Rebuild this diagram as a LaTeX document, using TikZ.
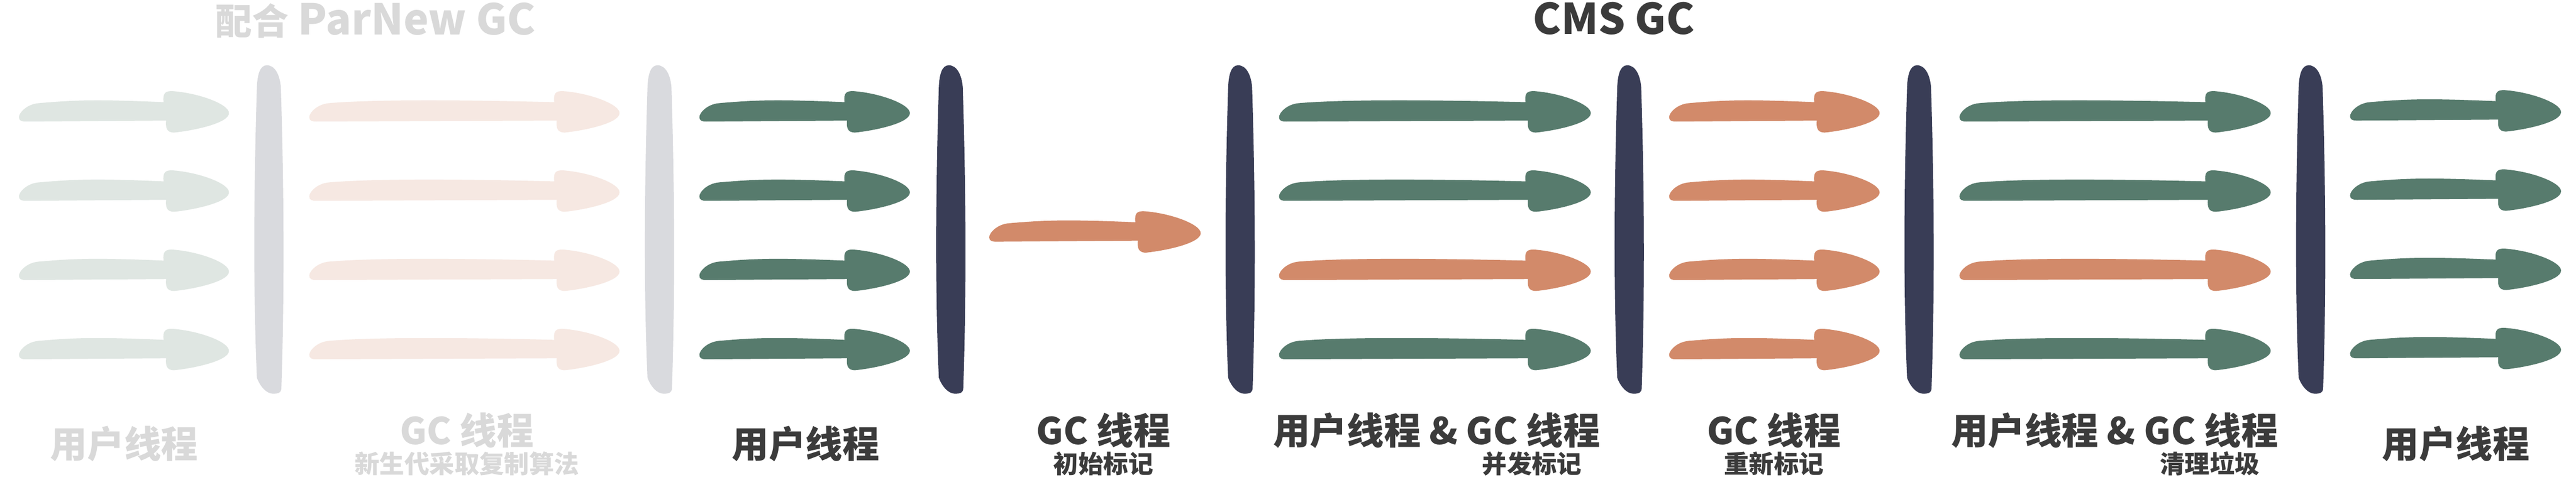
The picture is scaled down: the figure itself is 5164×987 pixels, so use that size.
\documentclass[tikz,border=0pt]{standalone}
\usepackage{fontspec}
\newfontfamily\cjk{Noto Sans CJK SC}
\definecolor{fgreen}{HTML}{DFE6E2}
\definecolor{fpink}{HTML}{F6E8E2}
\definecolor{fbar}{HTML}{D9DADE}
\definecolor{ftext}{HTML}{D9D9D9}
\definecolor{tgreen}{HTML}{577B6D}
\definecolor{torange}{HTML}{D28A6A}
\definecolor{dbar}{HTML}{393D56}
\definecolor{dtext}{HTML}{3B3B3B}
% thread arrow: #1 tail x, #2 tip x, #3 centre y, #4 colour
\newcommand\tharrow[4]{%
  \fill[#4] ({#1+14},{#3+19}) -- ({#2-126},{#3+17})
    .. controls ({#2-127},{#3+30}) and ({#2-126},{#3+41}) .. ({#2-110},{#3+41})
    .. controls ({#2-70},{#3+37}) and ({#2},{#3+22}) .. ({#2},{#3+2})
    .. controls ({#2},{#3-16}) and ({#2-60},{#3-38}) .. ({#2-112},{#3-42})
    .. controls ({#2-128},{#3-43}) and ({#2-133},{#3-38}) .. ({#2-131},{#3-20})
    .. controls ({(#1+#2)/2-60},{#3-26}) and ({#1+110},{#3-24}) .. ({#1+40},{#3-18})
    .. controls ({#1+15},{#3-16}) and ({#1},{#3+2}) .. ({#1},{#3+10})
    .. controls ({#1},{#3+17}) and ({#1+5},{#3+19}) .. ({#1+14},{#3+19}) -- cycle;}
% safepoint bar: #1 centre x, #2 colour
\newcommand\gcbar[2]{%
  \fill[#2] ({#1-4},131) .. controls ({#1-18},131) and ({#1-23},150) .. ({#1-24},175)
    .. controls ({#1-31},400) and ({#1-31},600) .. ({#1-24},758)
    .. controls ({#1-18},775) and ({#1-5},790) .. ({#1+8},790)
    .. controls ({#1+20},790) and ({#1+24},788) .. ({#1+25},780)
    .. controls ({#1+31},600) and ({#1+31},400) .. ({#1+24},175)
    .. controls ({#1+22},150) and ({#1+12},131) .. ({#1-4},131) -- cycle;}
\tikzset{
  lbl/.style={anchor=base, inner sep=0pt, text=dtext, font=\cjk\bfseries\fontsize{74}{80}\selectfont},
  sublbl/.style={anchor=base, inner sep=0pt, text=dtext, font=\cjk\bfseries\fontsize{50}{56}\selectfont},
  ttl/.style={anchor=base, inner sep=0pt, text=dtext, font=\cjk\bfseries\fontsize{85}{90}\selectfont},
  faded/.style={text=ftext}
}
\begin{document}
\begin{tikzpicture}[x=1pt,y=-1pt]
\useasboundingbox[fill=white] (0,0) rectangle (5164,987);
% titles
\node[ttl,faded] (t1) at (753,70) {{\fontsize{73}{80}\selectfont 配合} ParNew GC};
\node[ttl] (t2) at (3235,69) {CMS GC};
% faded ParNew part
\foreach \c in {225,384,543,702} {\tharrow{38}{459}{\c}{fgreen}}
\gcbar{539}{fbar}
\foreach \c in {225,384,543,702} {\tharrow{620}{1242}{\c}{fpink}}
\gcbar{1322}{fbar}
% CMS part
\foreach \c in {225,384,543,702} {\tharrow{1402}{1824}{\c}{tgreen}}
\gcbar{1906}{dbar}
\tharrow{1983}{2407}{466}{torange}
\gcbar{2486}{dbar}
\tharrow{2564}{3189}{225}{tgreen}
\tharrow{2564}{3189}{384}{tgreen}
\tharrow{2564}{3189}{543}{torange}
\tharrow{2564}{3189}{702}{tgreen}
\gcbar{3266}{dbar}
\foreach \c in {225,384,543,702} {\tharrow{3346}{3768}{\c}{torange}}
\gcbar{3847}{dbar}
\tharrow{3928}{4552}{225}{tgreen}
\tharrow{3928}{4552}{384}{tgreen}
\tharrow{3928}{4552}{543}{torange}
\tharrow{3928}{4552}{702}{tgreen}
\gcbar{4632}{dbar}
\foreach \c in {223,382,541,700} {\tharrow{4711}{5134}{\c}{tgreen}}
% labels
\node[lbl,faded] (l1) at (249,919) {用户线程};
\node[lbl,faded] (l2) at (936,892) {GC 线程};
\node[sublbl,faded] (s2) at (936,950) {新生代采取复制算法};
\node[lbl] (l3) at (1615,919) {用户线程};
\node[lbl] (l4) at (2212,892) {GC 线程};
\node[sublbl] (s4) at (2212,950) {初始标记};
\node[lbl] (l5) at (2880,892) {用户线程 \& GC 线程};
\node[sublbl] (s5) at (3071,950) {并发标记};
\node[lbl] (l6) at (3556,892) {GC 线程};
\node[sublbl] (s6) at (3556,950) {重新标记};
\node[lbl] (l7) at (4239,892) {用户线程 \& GC 线程};
\node[sublbl] (s7) at (4430,950) {清理垃圾};
\node[lbl] (l8) at (4923,919) {用户线程};
\end{tikzpicture}
\end{document}
